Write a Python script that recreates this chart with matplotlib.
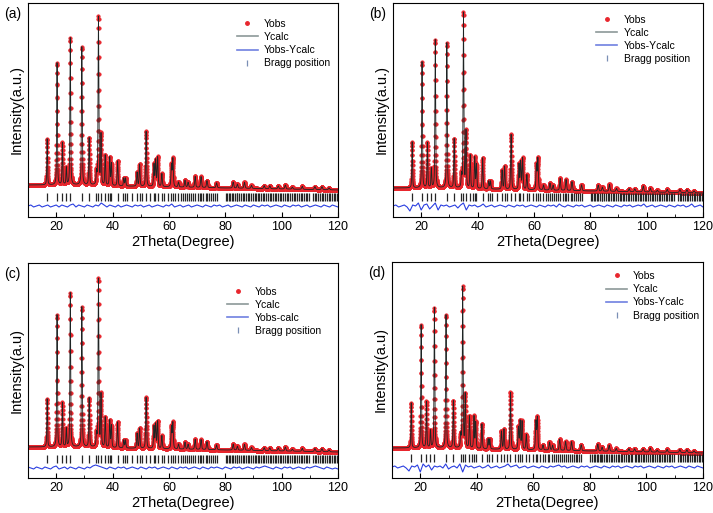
import numpy as np
import matplotlib
matplotlib.use('Agg')
import matplotlib.pyplot as plt
from matplotlib.lines import Line2D

plt.rcParams['font.family'] = ['Liberation Sans', 'DejaVu Sans']

# reflection positions (2theta) of the refined phase
peak_pos = [16.8, 20.3, 22.2, 23.6, 25.0, 29.1, 31.7, 34.3, 35.0, 35.9,
            37.4, 39.0, 39.6, 41.8, 44.0, 44.6, 48.7, 49.6, 51.9, 54.7,
            55.3, 56.0, 57.5, 60.9, 61.4, 63.4, 65.7, 66.8, 69.3, 71.4,
            73.5, 76.9, 82.8, 84.3, 86.8, 89.3, 93.8, 95.8, 98.8, 101.3,
            103.8, 107.3, 111.8, 114.3, 116.8]

# peak heights above background for each sample
heights_a = [46, 122, 42, 17, 147, 138, 47, 12, 168, 50, 30, 28, 22, 25, 8, 8,
             14, 22, 55, 22, 26, 29, 13, 22, 28, 5, 7, 5, 11, 11, 7, 5, 6, 4,
             6, 3, 3, 3, 3, 4, 2, 3, 3, 3, 2]
heights_b = [46, 126, 45, 19, 148, 145, 49, 12, 175, 56, 33, 31, 24, 31, 8, 8,
             19, 23, 55, 25, 27, 31, 15, 25, 31, 5, 7, 5, 12, 11, 9, 6, 6, 4,
             7, 3, 3, 3, 6, 4, 2, 3, 3, 3, 2]
heights_c = [48, 132, 44, 18, 154, 140, 49, 12, 168, 52, 30, 27, 22, 26, 8, 8,
             15, 20, 51, 22, 24, 27, 13, 22, 26, 5, 7, 5, 10, 10, 8, 5, 6, 4,
             6, 3, 3, 3, 3, 4, 2, 3, 3, 3, 2]
heights_d = [45, 123, 46, 17, 140, 133, 47, 12, 161, 53, 32, 32, 26, 25, 10, 10,
             18, 20, 57, 22, 28, 28, 15, 28, 32, 5, 8, 5, 11, 9, 9, 6, 7, 4,
             6, 3, 3, 3, 3, 4, 2, 3, 3, 3, 2]

# background points
bg_x = [10, 20, 30, 40, 60, 80, 100, 120]
bg_y = [0, 0, 0, -1, -2, -3, -4, -5]

# Bragg tick positions
bragg = [16.8, 20.3, 22.2, 23.6, 25.0, 29.1, 31.7, 34.3, 35.0, 35.9, 37.4,
         38.4, 39.0, 39.6, 41.8, 43.7, 44.3, 45.3, 47.0, 48.6, 49.6, 50.6,
         51.9, 53.4, 54.6, 55.2, 56.0, 57.4, 58.3, 59.8, 60.9, 61.4, 62.3,
         63.4, 64.2, 65.0, 65.7, 66.5, 67.2, 68.0, 68.6, 69.3, 70.2, 70.9,
         71.4, 72.2, 73.0, 73.5, 74.3, 75.0, 75.6, 76.2, 76.9, 80.2, 80.7,
         81.3, 81.8, 82.4, 82.8, 83.5, 84.0, 84.3, 85.0, 85.6, 86.2, 86.8,
         87.3, 87.9, 88.5, 89.3, 89.8, 90.4, 91.0, 91.5, 92.1, 92.8, 93.3,
         93.8, 94.4, 95.0, 95.8, 96.3, 96.9, 97.5, 98.1, 98.8, 99.3, 99.9,
         100.5, 101.3, 101.8, 102.4, 103.0, 103.8, 104.3, 104.9, 105.5, 106.1,
         106.7, 107.3, 107.9, 108.5, 109.1, 109.6, 111.2, 111.8, 112.3, 112.9,
         113.5, 114.3, 114.8, 115.4, 116.0, 116.8, 117.3, 117.9, 118.5, 119.1,
         119.6]

# difference curve, 1 degree steps from 10 to 120
diff_x = list(range(10, 121))
diff_a = [0, 1, -1, 0, 1, -1, 0, 1, -1, 0, 1, -1, 1, 0, -1, 1, 2, -1, 1, 0,
          -1, 1, 0, -1, 1, 0, 3, 1, -1, 1, 0, -1, 1, -1, 0, 1, 0, -1, 1, 0,
          1, -1, 0, 1, -1, 0, 1, 0, -1, 1, 0, 2, -1, 0, 1, -1, 0, 1, -1, 0,
          1, 0, -1, 1, 0, -1, 1, 0, 1, -1, 0, 1, -1, 0, 1, 0, -1, 1, 0, -1,
          1, 0, -1, 1, 0, 1, -1, 0, 1, 0, -1, 1, 0, -1, 1, 0, 1, -1, 0, 1,
          -1, 0, 1, 0, -1, 1, 0, -1, 1, 0, -1]
diff_b = [0, 1, -1, 0, 1, -1, -5, 1, 0, 3, -4, 1, 2, -3, 0, 3, -4, 1, 0, 1,
          -1, 0, 1, -2, 1, 3, -4, 1, 0, 1, -1, 0, 2, -1, 0, 1, -1, 0, 1, 0,
          -1, 1, 0, -1, 1, 0, 1, -1, 0, 1, 0, -1, 1, 0, -1, 1, 0, 1, -1, 2,
          0, -1, 1, 0, -1, 1, 0, 1, -1, 0, 1, -1, 0, 1, 0, -1, 1, 0, -1, 1,
          0, -1, 1, 0, 1, -1, 0, 1, 0, 2, -1, 0, 1, -1, 0, 1, 0, -1, 1, 0,
          -1, 1, 0, 1, -1, 0, 2, -1, 0, 1, -1]
diff_c = [1, 0, -1, 1, 0, -1, 1, 0, -1, 1, 2, -1, 0, 1, -1, 1, 0, -1, 1, 0,
          -1, 1, 0, 2, 3, 2, 1, 0, -1, 1, 0, -1, 1, 0, 1, -1, 0, 1, 0, -1,
          1, 0, -1, 1, 0, 1, -1, 0, 1, 0, -1, 1, 0, -1, 1, 0, 1, -1, 0, 1,
          0, -1, 1, 0, -1, 1, 0, 1, 0, -1, 1, 0, -1, 1, 0, 1, -1, 0, 1, 0,
          -1, 1, 0, 1, 2, 1, 0, -1, 1, 0, -1, 1, 0, 1, -1, 0, 1, 0, -1, 1,
          0, 1, 2, 1, 0, -1, 1, 0, -1, 0, -1]
diff_d = [0, 1, -1, 0, 1, -1, -4, 1, 0, 2, -5, 3, 0, 2, -3, 1, 0, 1, -1, 3,
          -2, 0, 1, -1, 3, -5, 2, 0, 1, -1, 0, 1, -1, 0, 2, -1, 0, 1, -1, 0,
          1, 3, 0, 1, 2, -1, 0, 1, -1, 0, 1, 0, -1, 1, 0, -1, 1, 0, 1, 2,
          0, 1, -1, 0, 1, 0, -1, 1, 0, 1, -1, 0, 1, 0, -1, 1, 0, -1, 1, 0,
          1, -1, 0, 1, 0, -1, 1, 0, 1, -1, 0, 1, 0, -1, 1, 0, -1, 1, 0, 1,
          -1, 0, 1, 0, -1, 1, 0, -1, 1, 0, -1]

panels = [
    ('(a)', heights_a, diff_a, 'Intensity(a.u.)', 'Yobs-Ycalc', (-32, 182), -12, -21),
    ('(b)', heights_b, diff_b, 'Intensity(a.u.)', 'Yobs-Ycalc', (-29, 185), -9, -18),
    ('(c)', heights_c, diff_c, 'Intensity(a.u)', 'Yobs-calc', (-31, 184), -12, -21),
    ('(d)', heights_d, diff_d, 'Intensity(a.u)', 'Yobs-Ycalc', (-30, 186), -10, -19),
]
# axes rectangles in pixel units (left, top, right, bottom)
boxes = [(28, 3, 338, 217), (393, 3, 703, 217), (28, 263, 338, 478), (392, 262, 703, 478)]
legend_anchor = [(0.66, 0.945), (0.643, 0.965), (0.63, 0.91), (0.675, 0.977)]

W, H = 713, 513


def profile(x, heights):
    y = np.interp(x, bg_x, bg_y).astype(float)
    for p, h in zip(peak_pos, heights):
        w = 0.28 + 0.002 * (p - 10)
        g = np.exp(-4 * np.log(2) * ((x - p) / w) ** 2)
        lor = 1 / (1 + 4 * ((x - p) / w) ** 2)
        y += h * (0.5 * g + 0.5 * lor)
    return y


x_calc = np.arange(10, 120.001, 0.01)
x_obs = np.arange(10, 120.001, 0.025)

fig = plt.figure(figsize=(W / 100, H / 100), dpi=100)
for (tag, hts, dif, ylab, dlab, ylim, ybragg, ydiff), (l, t, r, b), anc in zip(panels, boxes, legend_anchor):
    ax = fig.add_axes([l / W, 1 - b / H, (r - l) / W, (b - t) / H])
    ax.plot(x_obs, profile(x_obs, hts), ls='none', marker='o', ms=2.6,
            mfc='#e8262d', mec='#e8262d', mew=0.3, zorder=2)
    ax.plot(x_calc, profile(x_calc, hts), color='#1e2424', lw=0.6, zorder=3)
    ax.plot(diff_x, np.array(dif) + ydiff, color='#2a3ee0', lw=0.8)
    ax.plot(bragg, [ybragg] * len(bragg), ls='none', marker='|', ms=5.5,
            mew=0.9, color='#262626')
    ax.set_xlim(10, 120)
    ax.set_ylim(*ylim)
    ax.set_yticks([])
    ax.set_xticks([20, 40, 60, 80, 100, 120])
    ax.set_xticks(np.arange(30, 120, 20), minor=True)
    ax.tick_params(axis='x', which='both', direction='in', top=False, labelsize=9, pad=3)
    ax.tick_params(axis='x', which='major', length=3.5)
    ax.tick_params(axis='x', which='minor', length=2.5)
    ax.set_xlabel('2Theta(Degree)', fontsize=10.5, labelpad=1)
    ax.set_ylabel(ylab, fontsize=10.5, labelpad=3)
    handles = [
        Line2D([], [], ls='none', marker='o', ms=2.5, color='#e8262d'),
        Line2D([], [], color='#8c9898', lw=1.2),
        Line2D([], [], color='#7080e0', lw=1.2),
        Line2D([], [], ls='none', marker='|', ms=5, mew=0.9, color='#7a8fb5'),
    ]
    ax.legend(handles, ['Yobs', 'Ycalc', dlab, 'Bragg position'], loc='upper left',
              bbox_to_anchor=anc, frameon=False, fontsize=7.5, handlelength=2.0,
              handletextpad=0.6, labelspacing=0.3, borderaxespad=0)
    fig.text((l - 24) / W, 1 - (t + 11) / H, tag, fontsize=10, ha='left', va='center')

fig.savefig('out.png', dpi=100)
